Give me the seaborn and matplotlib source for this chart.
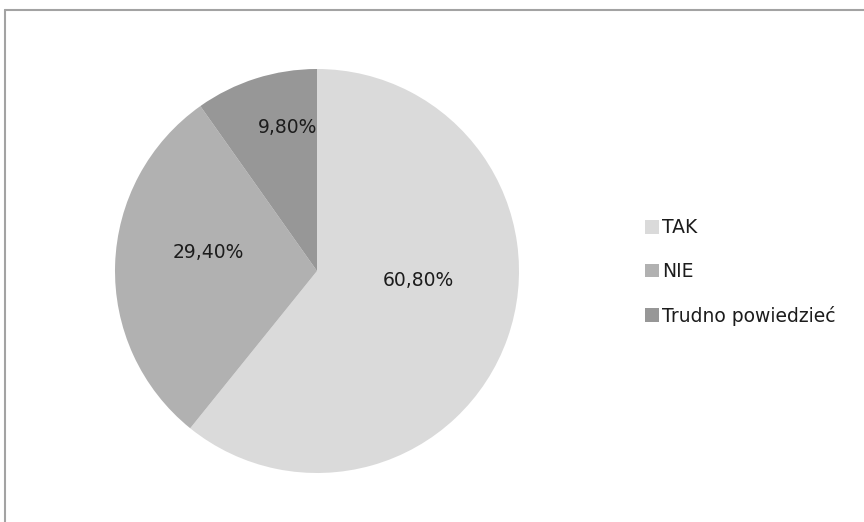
import matplotlib
matplotlib.use("Agg")
import matplotlib.pyplot as plt
from matplotlib.lines import Line2D
from matplotlib.patches import Patch
import seaborn as sns

# Survey answers and their shares (percent)
categories = ["TAK", "NIE", "Trudno powiedzieć"]
shares = [60.8, 29.4, 9.8]
slice_colors = ["#dadada", "#b1b1b1", "#979797"]

sns.set_theme(style="white")
plt.rcParams["font.family"] = ["DejaVu Sans"]
text_color = "#1c1c1c"

W, H = 864, 522
fig = plt.figure(figsize=(W / 100, H / 100), dpi=100)
fig.patch.set_facecolor("white")

# pie centred at (317, 271) px with radius 202 px
cx, cy, r = 317, 271, 202
ax = fig.add_axes([(cx - r) / W, (H - cy - r) / H, 2 * r / W, 2 * r / H])

wedges, _, pct_texts = ax.pie(
    shares,
    colors=slice_colors,
    startangle=90,
    counterclock=False,
    radius=1.0,
    autopct=lambda p: f"{p:.2f}%".replace(".", ","),
    pctdistance=0.55,
    wedgeprops=dict(linewidth=0),
    textprops=dict(fontsize=13.5, color=text_color),
)
ax.set_xlim(-1, 1)
ax.set_ylim(-1, 1)
ax.set_aspect("equal")
ax.axis("off")

# nudge the percentage labels inside their slices
label_spots = [(0.50, -0.045), (-0.54, 0.09), (-0.145, 0.71)]
for t, pos in zip(pct_texts, label_spots):
    t.set_position(pos)
    t.set_ha("center")
    t.set_va("center")

handles = [Patch(facecolor=c, edgecolor="none") for c in slice_colors]
fig.legend(
    handles,
    categories,
    loc="center left",
    bbox_to_anchor=(637 / W, 1 - 272 / H),
    frameon=False,
    fontsize=13.5,
    labelcolor=text_color,
    handlelength=0.75,
    handleheight=0.75,
    handletextpad=0.2,
    labelspacing=1.32,
    borderaxespad=0,
)

# chart area frame (top and left edges visible)
frame_color = "#a3a3a3"
fig.add_artist(Line2D([5 / W, 5 / W], [0, 1 - 10 / H], transform=fig.transFigure,
                      color=frame_color, lw=1.5))
fig.add_artist(Line2D([5 / W, 1], [1 - 10 / H, 1 - 10 / H], transform=fig.transFigure,
                      color=frame_color, lw=1.5))

fig.savefig("out.png", dpi=100, facecolor="white")
